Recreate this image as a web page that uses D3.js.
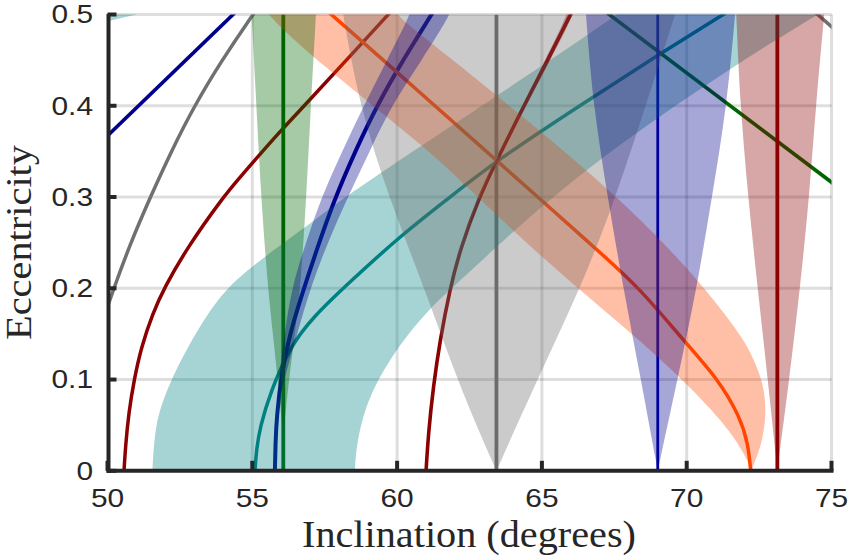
<!DOCTYPE html>
<html><head><meta charset="utf-8">
<script src="https://cdn.jsdelivr.net/npm/d3@7"></script>
<style>html,body{margin:0;padding:0;background:#fff;} svg{display:block;}</style>
</head><body>
<svg id="chart" width="848" height="558"></svg>
<script>
// ---------- data (inclination in degrees, eccentricity) ----------
const xTicks = [50, 55, 60, 65, 70, 75];
const yTicks = [0, 0.1, 0.2, 0.3, 0.4, 0.5];
const xTickLabels = ["50", "55", "60", "65", "70", "75"];
const yTickLabels = ["0", "0.1", "0.2", "0.3", "0.4", "0.5"];

// curves
const navyTopLeft = [[49.8,0.361],[54.4,0.502]];
const grayLeft = [[49.9,0.172],[50.08,0.1866],[50.22,0.2],[50.8,0.25],[51.48,0.3],[52.2,0.35],[53.0,0.4],[53.95,0.45],[55.02,0.5],[55.1,0.503]];
const grayRight = [[74.45,0.502],[75.2,0.481]];
const darkRed1 = [[50.57,0],[50.62,0.026],[50.73,0.063],[50.92,0.1],[51.17,0.136],[51.57,0.173],[51.95,0.2],[52.78,0.246],[54.0,0.3],[54.5,0.319],[56.07,0.376],[56.8,0.4],[58.25,0.45],[59.69,0.5],[59.85,0.505]];
const darkRed2 = [[61.0,0],[61.08,0.041],[61.25,0.092],[61.48,0.143],[61.83,0.2],[62.17,0.242],[62.83,0.3],[63.43,0.34],[64.38,0.4],[65.2,0.45],[65.99,0.5],[66.05,0.504]];
const tealLine = [[55.09,0],[55.15,0.025],[55.27,0.048],[55.61,0.085],[56.3,0.136],[57.11,0.169],[58.37,0.207],[60.1,0.257],[61.71,0.297],[63.43,0.34],[66.3,0.4],[69.0,0.4555],[71.27,0.5],[71.4,0.503]];
const navyCurve = [[55.78,0],[55.8,0.03],[55.84,0.059],[56.01,0.107],[56.3,0.15],[56.65,0.187],[57.22,0.242],[57.83,0.297],[58.55,0.35],[59.3,0.4],[60.2,0.45],[61.19,0.5],[61.3,0.506]];
const orangeLine = [[57.55,0.505],[57.73,0.5],[60.6,0.42],[63.43,0.34],[65.5,0.282],[66.8,0.245],[68.39,0.2],[69.88,0.143],[71.1,0.1],[71.84,0.059],[72.12,0.03],[72.21,0]];
const greenDiag = [[67.2,0.503],[75.3,0.309]];
const greenVertical = 56.07;
const grayVertical = 63.43;
const blueVertical = 69.0;
const darkRedVertical = 73.13;

// shaded bands: edge A then edge B
const tealBandLeft = [[51.55,0],[51.6,0.03],[51.74,0.063],[52.2,0.1],[52.78,0.136],[53.47,0.173],[54.34,0.209],[56.1,0.25],[57.44,0.2815],[58.02,0.296],[60.92,0.358],[62.17,0.384],[65.62,0.457],[67.6,0.5],[67.8,0.505]];
const tealBandRight = [[74.8,0.505],[74.52,0.5],[71.73,0.446],[67.5,0.355],[64.6,0.28],[62.17,0.208],[61.01,0.175],[59.75,0.124],[58.94,0.076],[58.6,0.03],[58.54,0]];
const tealSliver = [[50,0.4925],[51.0,0.5],[51.0,0.51],[50,0.51]];
const salmonLower = [[55.4,0.51],[55.5,0.5],[57.17,0.4506],[60.93,0.3554],[62.17,0.3189],[64.93,0.2347],[68.39,0.1432],[70.12,0.092],[71.61,0.0408],[72.21,0.0042],[72.25,0]];
const salmonUpper = [[72.31,0.0068],[72.6,0.03],[72.77,0.065],[72.62,0.1],[72.2,0.13],[71.85,0.1497],[70.35,0.2119],[67.38,0.3108],[60.92,0.4756],[59.94,0.5],[59.9,0.51]];
const grayTriLeft = [[63.43,0],[62.17,0.091],[60.95,0.2],[59.75,0.296],[58.71,0.399],[58.13,0.5],[58.1,0.51]];
const grayTriRight = [[69.7,0.51],[69.6,0.5],[68.27,0.369],[67.35,0.282],[66.31,0.199],[64.93,0.106],[63.43,0]];
const greenFillLeft = [[56.07,0.04],[55.97,0.07],[55.88,0.1],[55.7,0.153],[55.54,0.2],[55.31,0.296],[55.14,0.4],[54.98,0.5],[54.96,0.51]];
const greenFillRight = [[57.21,0.51],[57.2,0.5],[57.02,0.4],[56.86,0.296],[56.66,0.2],[56.48,0.153],[56.27,0.1],[56.17,0.07],[56.07,0.04]];
const navyBandLeft = [[55.87,0.07],[55.9,0.1],[56.12,0.15],[56.35,0.2],[56.85,0.25],[57.39,0.3],[58.1,0.35],[58.85,0.4],[59.65,0.45],[60.46,0.5],[60.5,0.51]];
const navyBandRight = [[61.9,0.51],[61.84,0.5],[60.85,0.45],[59.8,0.4],[59.05,0.35],[58.3,0.3],[57.6,0.25],[57.0,0.2],[56.55,0.15],[56.1,0.1],[55.87,0.07]];
const blueTriLeft = [[69.0,0],[68.42,0.1],[67.81,0.2],[67.27,0.3],[66.77,0.4],[66.52,0.5],[66.5,0.51]];
const blueTriRight = [[71.7,0.51],[71.67,0.5],[71.39,0.4],[70.87,0.3],[70.35,0.2],[69.68,0.1],[69.0,0]];
const roseTriLeft = [[73.13,0],[72.8,0.1],[72.45,0.2],[72.12,0.3],[71.85,0.4],[71.71,0.5],[71.7,0.51]];
const roseTriRight = [[74.77,0.51],[74.75,0.5],[74.46,0.4],[74.23,0.3],[73.94,0.208],[73.54,0.1],[73.13,0]];
const haloLeft = [[62.3,0.25],[62.78,0.3],[64.31,0.4],[65.11,0.45],[65.89,0.5],[65.9,0.51]];
const haloRight = [[66.14,0.51],[66.1,0.5],[65.29,0.45],[64.45,0.4],[62.88,0.3],[62.3,0.25]];

// ---------- drawing ----------
const svg = d3.select("#chart");
const x = d3.scaleLinear().domain([50, 75]).range([107.5, 831.5]);
const y = d3.scaleLinear().domain([0, 0.5]).range([470.8, 14.5]);
const ink = "#262626";

svg.append("defs").append("clipPath").attr("id","plotclip")
  .append("rect").attr("x", x(50)).attr("y", y(0.5))
  .attr("width", x(75)-x(50)).attr("height", y(0)-y(0.5));

// grid
const grid = svg.append("g");
grid.selectAll("line.gx").data(xTicks.slice(1)).join("line")
  .attr("x1", d=>x(d)).attr("x2", d=>x(d)).attr("y1", y(0)).attr("y2", y(0.5))
  .attr("stroke", "rgba(0,0,0,0.13)").attr("stroke-width", 3);
grid.selectAll("line.gy").data(yTicks.slice(1)).join("line")
  .attr("x1", x(50)).attr("x2", x(75)).attr("y1", d=>y(d)).attr("y2", d=>y(d))
  .attr("stroke", "rgba(0,0,0,0.13)").attr("stroke-width", 3);

const plot = svg.append("g").attr("clip-path", "url(#plotclip)");
const line = d3.line().x(d=>x(d[0])).y(d=>y(d[1])).curve(d3.curveBasis);
const lineLin = d3.line().x(d=>x(d[0])).y(d=>y(d[1]));

function curve(pts, color, w, gen) {
  plot.append("path").attr("d", (gen || line)(pts)).attr("fill","none")
    .attr("stroke", color).attr("stroke-width", w || 3.5).attr("stroke-linecap","butt");
}
function vline(v, color, w) {
  plot.append("line").attr("x1", x(v)).attr("x2", x(v)).attr("y1", y(0)).attr("y2", y(0.5))
    .attr("stroke", color).attr("stroke-width", w || 3.8);
}
function band(a, b, color, op) {
  const d = line(a) + line(b).replace("M", "L") + "Z";
  plot.append("path").attr("d", d).attr("fill", color).attr("fill-opacity", op || 0.35).attr("stroke","none");
}

// lines first
curve(navyTopLeft, "#00008B", 3.6, lineLin);
curve(grayLeft, "#707070", 3.5);
curve(grayRight, "#707070", 3.6, lineLin);
curve(darkRed1, "#8B0000", 3.5);
curve(darkRed2, "#8B0000", 3.6);
curve(tealLine, "#008080", 3.5);
curve(navyCurve, "#00008B", 4);
curve(orangeLine, "#FF4500", 3.5);
curve(greenDiag, "#006400", 3.6, lineLin);
vline(greenVertical, "#006400");
vline(grayVertical, "#6e6e6e");
vline(blueVertical, "#0000A8", 2.8);
vline(darkRedVertical, "#8B0000");

// translucent bands on top
band(tealBandLeft, tealBandRight, "#008080");
plot.append("path").attr("d", lineLin(tealSliver) + "Z").attr("fill", "#008080").attr("fill-opacity", 0.35);
band(salmonLower, salmonUpper, "#FF4500");
band(grayTriLeft, grayTriRight, "#696969");
band(greenFillLeft, greenFillRight, "#006400");
band(navyBandLeft, navyBandRight, "#00008B");
band(blueTriLeft, blueTriRight, "#00008B");
band(roseTriLeft, roseTriRight, "#8B0000");
band(haloLeft, haloRight, "#8B0000");

// axes
const ax = svg.append("g");
ax.append("line").attr("x1", x(50)+1).attr("x2", x(50)+1).attr("y1", y(0.5)-0.5).attr("y2", y(0)+2)
  .attr("stroke", ink).attr("stroke-width", 4);
ax.append("line").attr("x1", x(50)-1).attr("x2", x(75)+2).attr("y1", y(0)).attr("y2", y(0))
  .attr("stroke", ink).attr("stroke-width", 4);
ax.selectAll("line.tx").data(xTicks).join("line")
  .attr("x1", d=>x(d)).attr("x2", d=>x(d)).attr("y1", y(0)).attr("y2", y(0)-10)
  .attr("stroke", ink).attr("stroke-width", 4);
ax.selectAll("line.ty").data(yTicks).join("line")
  .attr("x1", x(50)).attr("x2", x(50)+9).attr("y1", d=>y(d)).attr("y2", d=>y(d))
  .attr("stroke", ink).attr("stroke-width", 4);

const tickFont = "'Liberation Sans', Arial, Helvetica, sans-serif";
ax.selectAll("text.xl").data(xTicks).join("text")
  .attr("transform", d=>`translate(${x(d)},506.5) scale(1.15,1)`)
  .attr("text-anchor","middle").attr("font-family", tickFont).attr("font-size", 26)
  .attr("fill", ink).text((d,i)=>xTickLabels[i]);
ax.selectAll("text.yl").data(yTicks).join("text")
  .attr("transform", d=>`translate(93,${y(d)+8.8}) scale(1.17,1)`)
  .attr("text-anchor","end").attr("font-family", tickFont).attr("font-size", 25.5)
  .attr("fill", ink).text((d,i)=>yTickLabels[i]);

const serif = "'Liberation Serif', 'Times New Roman', serif";
svg.append("text").attr("x", 469).attr("y", 547)
  .attr("text-anchor","middle").attr("font-family", serif).attr("font-size", 37)
  .attr("textLength", 334).attr("lengthAdjust","spacingAndGlyphs")
  .attr("fill", ink).text("Inclination (degrees)");
svg.append("text").attr("transform", "translate(31,242.5) rotate(-90)")
  .attr("text-anchor","middle").attr("font-family", serif).attr("font-size", 35)
  .attr("textLength", 195).attr("lengthAdjust","spacingAndGlyphs")
  .attr("fill", ink).text("Eccentricity");
</script>
</body></html>
